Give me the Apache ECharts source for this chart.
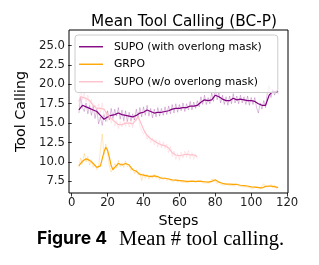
<!DOCTYPE html>
<html>
<head>
<meta charset="utf-8">
<script src="https://cdn.jsdelivr.net/npm/echarts@6/dist/echarts.min.js"></script>
<style>
  html, body { margin: 0; padding: 0; background: #fff; }
  #chart { width: 319px; height: 265px; }
</style>
</head>
<body>
<div id="chart"></div>
<script>
// raw values, one per step, starting at step 4
const supoRaw = [16.3, 18.4, 17.0, 16.5, 17.6, 16.2, 17.3, 16.0, 17.2, 15.6, 16.8, 14.9, 15.8, 14.7, 16.1, 15.2,
  16.6, 15.4, 16.9, 15.6, 16.8, 15.9, 17.0, 15.5, 16.7, 15.3, 16.6, 15.2, 16.4, 15.3, 16.2, 15.4,
  16.8, 15.7, 17.0, 15.8, 17.1, 16.0, 17.3, 15.9, 16.9, 15.7, 16.8, 15.8, 17.0, 15.9, 16.9, 16.0,
  17.1, 16.1, 17.2, 16.2, 17.4, 16.3, 17.5, 16.4, 17.4, 16.6, 17.6, 16.5, 17.5, 16.7, 17.8, 16.7,
  17.7, 16.9, 17.9, 17.1, 18.4, 17.4, 18.6, 17.4, 18.3, 17.5, 18.9, 17.8, 19.5, 18.0, 18.9, 17.6,
  18.6, 17.4, 18.4, 17.3, 18.5, 17.5, 18.8, 17.6, 18.5, 17.5, 18.6, 17.6, 18.4, 17.4, 18.5, 17.3,
  18.3, 17.4, 18.3, 17.0, 16.3, 17.6, 16.8, 17.9, 17.0, 18.9, 19.8, 18.3, 19.4, 18.6, 19.3, 18.8];
const grpoRaw = [9.3, 10.5, 9.8, 11.1, 10.0, 10.7, 9.6, 10.3, 9.3, 9.6, 9.0, 9.4, 9.2, 13.6, 10.9, 12.3,
  11.2, 9.5, 8.7, 9.1, 9.8, 9.2, 10.2, 9.4, 9.9, 9.3, 10.1, 9.4, 9.7, 8.9, 9.2, 8.5,
  9.0, 8.3, 8.6, 7.6, 8.5, 7.9, 8.4, 7.8, 8.3, 7.9, 8.4, 7.9, 8.2, 7.7, 8.1, 7.7,
  8.0, 7.6, 7.9, 7.6, 7.8, 7.5, 7.8, 7.4, 7.7, 7.4, 7.6, 7.4, 7.6, 7.3, 7.6, 7.4,
  7.6, 7.3, 7.6, 7.4, 7.6, 7.3, 7.5, 7.3, 7.5, 7.3, 7.8, 7.9, 7.5, 7.2, 7.5, 7.1,
  7.3, 7.0, 7.3, 7.0, 7.2, 7.0, 7.2, 6.9, 7.2, 6.9, 7.1, 6.8, 7.0, 6.8, 7.0, 6.7,
  6.9, 6.5, 6.8, 6.6, 6.8, 6.5, 6.9, 7.2, 6.8, 7.0, 6.8, 7.1, 6.7, 7.0, 6.6, 6.8];
const noMaskRaw = [17.2, 19.6, 18.0, 18.9, 17.7, 18.6, 17.4, 18.1, 16.6, 17.3, 16.2, 17.5, 16.4, 17.6, 15.9, 16.4,
  15.2, 16.1, 15.0, 15.7, 14.6, 15.3, 14.3, 15.2, 14.5, 15.5, 14.6, 15.6, 14.5, 15.4, 14.4, 16.0,
  15.3, 16.4, 14.6, 14.4, 13.6, 13.9, 12.9, 13.4, 12.5, 13.1, 12.2, 12.9, 11.9, 12.7, 11.8, 12.6,
  11.7, 12.3, 11.2, 12.0, 10.7, 11.4, 10.3, 11.1, 10.2, 11.3, 10.5, 11.4, 10.6, 11.5, 10.4, 11.2,
  10.3, 11.0, 10.4];
const rawStart = 4;

// smoothed curves
const supoSteps = [4, 6, 8, 10, 12, 14, 16, 18, 20, 22, 24, 26, 28, 30, 32, 34, 36, 38, 40, 42, 44, 46, 48, 50,
  52, 54, 56, 58, 60, 62, 64, 66, 68, 70, 72, 74, 76, 78, 80, 82, 84, 86, 88, 90, 92, 94, 96, 98,
  100, 102, 104, 106, 108, 110, 112, 114, 115];
const supoSmooth = [16.7, 17.3, 17.1, 16.9, 16.7, 16.5, 16.0, 15.5, 15.8, 16.0, 16.1, 16.3, 16.1, 16.0, 15.9, 15.8,
  16.0, 16.3, 16.4, 16.7, 16.5, 16.3, 16.4, 16.4, 16.5, 16.6, 16.8, 16.9, 16.9, 17.0, 17.0, 17.2,
  17.2, 17.3, 17.7, 18.0, 17.9, 18.0, 18.6, 18.4, 18.1, 17.9, 17.9, 18.2, 18.0, 18.1, 18.0, 17.9,
  17.9, 17.8, 17.5, 17.3, 17.3, 18.6, 19.1, 19.0, 19.1];
const grpoSteps = [4, 6, 8, 10, 12, 14, 16, 18, 19, 20, 21, 22, 23, 24, 26, 28, 30, 32, 34, 36, 38, 40, 42, 44,
  46, 48, 50, 52, 54, 56, 58, 60, 62, 64, 66, 68, 70, 72, 74, 76, 78, 80, 82, 84, 86, 88,
  90, 92, 94, 96, 98, 100, 102, 104, 106, 108, 110, 112, 114, 115];
const grpoSmooth = [9.5, 10.1, 10.4, 10.2, 9.8, 9.3, 9.5, 11.3, 11.9, 11.5, 10.6, 9.5, 9.0, 9.3, 9.8, 9.6,
  9.8, 9.6, 9.0, 8.8, 8.4, 8.3, 8.2, 8.1, 8.2, 8.1, 7.9, 7.9, 7.8, 7.7, 7.65, 7.6,
  7.55, 7.5, 7.5, 7.5, 7.5, 7.5, 7.45, 7.4, 7.5, 7.7, 7.4, 7.25, 7.15, 7.15,
  7.1, 7.1, 7.0, 6.95, 6.9, 6.8, 6.75, 6.7, 6.65, 6.85, 6.9, 6.85, 6.75, 6.7];
const noMaskSteps = [4, 5, 6, 8, 10, 12, 14, 16, 18, 20, 22, 24, 26, 28, 30, 32, 34, 36, 37, 38, 40, 42, 44, 46,
  48, 50, 52, 54, 56, 58, 60, 62, 64, 66, 68, 70];
const noMaskSmooth = [17.8, 18.4, 18.4, 18.2, 17.9, 17.3, 16.9, 16.9, 16.8, 16.1, 15.6, 15.2, 14.8, 14.8, 15.0, 15.0,
  14.9, 15.5, 15.8, 15.3, 14.2, 13.4, 13.0, 12.7, 12.4, 12.2, 12.1, 11.8, 11.2, 10.9, 10.8, 10.9,
  11.0, 10.9, 10.9, 10.7];

const xTicks = [0, 20, 40, 60, 80, 100, 120];
const yTicks = [7.5, 10.0, 12.5, 15.0, 17.5, 20.0, 22.5, 25.0];
const names = ['SUPO (with overlong mask)', 'GRPO', 'SUPO (w/o overlong mask)'];

function rawPairs(vals) {
  return vals.map((v, i) => [rawStart + i, v]);
}
function pairs(xs, ys) {
  return xs.map((x, i) => [x, ys[i]]);
}

const chart = echarts.init(document.getElementById('chart'), null, { renderer: 'canvas' });
const font = 'DejaVu Sans';

function line(name, data, color, width, opacity, z) {
  return {
    name: name,
    type: 'line',
    data: data,
    symbol: 'none',
    showSymbol: false,
    z: z,
    lineStyle: { color: color, width: width, opacity: opacity },
    itemStyle: { color: color },
    emphasis: { disabled: true },
    silent: true
  };
}

chart.setOption({
  animation: false,
  title: {
    text: 'Mean Tool Calling (BC-P)',
    left: 179,
    top: 10,
    textAlign: 'center',
    textStyle: { fontFamily: font, fontSize: 15.3, fontWeight: 'normal', color: '#000' }
  },
  grid: {
    left: 69, right: 31, top: 30, bottom: 72,
    show: true, borderColor: '#000', borderWidth: 1, backgroundColor: 'transparent'
  },
  legend: {
    data: names,
    orient: 'vertical',
    left: 75,
    top: 35,
    padding: [5, 16, 4, 4],
    icon: 'rect',
    itemWidth: 24,
    itemHeight: 1.4,
    itemGap: 4,
    backgroundColor: 'rgba(255,255,255,0.8)',
    borderColor: '#cccccc',
    borderWidth: 1,
    borderRadius: 3,
    z: 10,
    textStyle: { fontFamily: font, fontSize: 10.8, color: '#000', padding: [0, 0, 0, 6], lineHeight: 13.5 }
  },
  xAxis: {
    type: 'value',
    min: -1.5,
    max: 120.5,
    name: 'Steps',
    nameLocation: 'middle',
    nameGap: 15,
    nameTextStyle: { fontFamily: font, fontSize: 14.3, color: '#000' },
    axisLine: { show: false },
    splitLine: { show: false },
    axisTick: { show: true, customValues: xTicks, length: 3.5, lineStyle: { color: '#000', width: 0.8 } },
    axisLabel: { customValues: xTicks, fontFamily: font, fontSize: 11.7, color: '#222', margin: 4 }
  },
  yAxis: {
    type: 'value',
    min: 6.0,
    max: 27.0,
    name: 'Tool Calling',
    nameLocation: 'middle',
    nameGap: 31,
    nameTextStyle: { fontFamily: font, fontSize: 14.3, color: '#000' },
    axisLine: { show: false },
    splitLine: { show: false },
    axisTick: { show: true, customValues: yTicks, length: 3.5, lineStyle: { color: '#000', width: 0.8 } },
    axisLabel: {
      customValues: yTicks, fontFamily: font, fontSize: 11.7, color: '#222', margin: 4,
      formatter: v => v.toFixed(1)
    }
  },
  graphic: [
    {
      type: 'text', left: 37, top: 230,
      style: { text: 'Figure 4', fontFamily: 'Inter', fontWeight: 'bold', fontSize: 17.5, fill: '#000' }
    },
    {
      type: 'text', left: 119, top: 229,
      style: { text: 'Mean # tool calling.', fontFamily: 'Liberation Serif', fontSize: 20.5, fill: '#000' }
    }
  ],
  series: [
    line('supo-raw', rawPairs(supoRaw), '#800080', 1, 0.25, 2),
    line(names[0], pairs(supoSteps, supoSmooth), '#800080', 1.2, 1, 3),
    line('grpo-raw', rawPairs(grpoRaw), '#FFA500', 1, 0.25, 2),
    line(names[1], pairs(grpoSteps, grpoSmooth), '#FFA500', 1.2, 1, 3),
    line('nomask-raw', rawPairs(noMaskRaw), '#FFC0CB', 1, 0.35, 2),
    line(names[2], pairs(noMaskSteps, noMaskSmooth), '#FFC0CB', 1.2, 1, 3)
  ]
});
</script>
</body>
</html>
